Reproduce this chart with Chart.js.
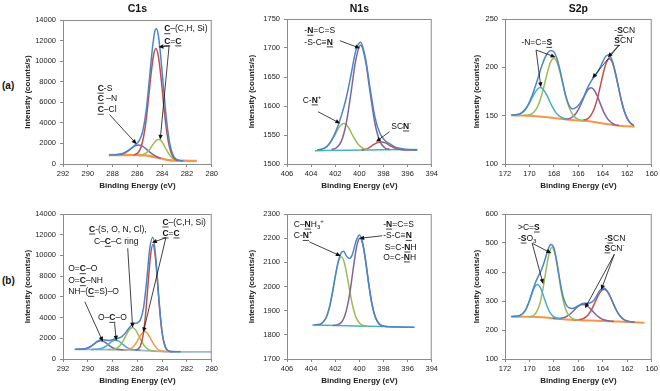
<!DOCTYPE html>
<html>
<head>
<meta charset="utf-8">
<script src="https://cdn.jsdelivr.net/npm/chart.js@4.4.0/dist/chart.umd.min.js"></script>
<style>
  body { margin: 0; background: #fff; width: 660px; height: 391px; position: relative; overflow: hidden; font-family: "Liberation Sans", Arial, sans-serif; }
  .panel { position: absolute; width: 220px; height: 195px; }
  .tag { position: absolute; font-weight: bold; font-size: 10px; color: #111; }
</style>
</head>
<body>
<div class="tag" style="left:2px;top:80px">(a)</div>
<div class="tag" style="left:2px;top:275px">(b)</div>
<div class="panel" style="left:0;top:0"><canvas id="c1sA"></canvas></div>
<div class="panel" style="left:220px;top:0"><canvas id="n1sA"></canvas></div>
<div class="panel" style="left:440px;top:0"><canvas id="s2pA"></canvas></div>
<div class="panel" style="left:0;top:195px"><canvas id="c1sB"></canvas></div>
<div class="panel" style="left:220px;top:195px"><canvas id="n1sB"></canvas></div>
<div class="panel" style="left:440px;top:195px"><canvas id="s2pB"></canvas></div>
<script>
'use strict';

// ---- data: [binding energy (eV), counts/s] ----
// C1s (a)
let c1sA_bg = [[288.3,880],[287.5,878],[286.5,868],[286,860],[285.4,840],[285,780],[284.6,680],[284.2,560],[283.8,450],[283.4,370],[283,330],[282.5,310],[281.2,300]];
let c1sA_red = [[286.3,890],[286.1,970],[285.9,1170],[285.7,1660],[285.5,2630],[285.3,4200],[285.1,6370],[284.9,8710],[284.7,10550],[284.5,11220],[284.3,10430],[284.1,8470],[283.9,6040],[283.7,3800],[283.5,2160],[283.3,1170],[283.1,650],[282.9,430],[282.7,320]];
let c1sA_green = [[285.85,870],[285.65,900],[285.45,980],[285.25,1110],[285.05,1360],[284.85,1700],[284.65,2050],[284.45,2320],[284.25,2380],[284.05,2210],[283.85,1820],[283.65,1370],[283.45,960],[283.25,655],[283.05,475],[282.85,370]];
let c1sA_purple = [[287.7,900],[287.4,944],[287.1,1050],[286.8,1240],[286.5,1510],[286.2,1756],[285.9,1855],[285.6,1740],[285.3,1475],[285,1150],[284.7,880],[284.4,684],[284.1,560]];
let c1sA_sum = [[288.3,880],[287.7,900],[287.4,945],[287.1,1050],[286.8,1245],[286.5,1520],[286.2,1830],[285.9,2190],[285.6,3040],[285.3,5115],[285,8610],[284.8,11100],[284.6,12850],[284.45,13150],[284.3,12450],[284.1,10260],[283.9,7530],[283.7,4875],[283.5,2840],[283.3,1536],[283.1,830],[282.9,506],[282.6,345],[282.3,310]];

// N1s (a)
let n1sA_bg = [[403.7,1523],[401,1523.5],[398,1524.5],[395.2,1525]];
let n1sA_purple = [[402.3,1525],[401.9,1528],[401.5,1539],[401.1,1569],[400.7,1622],[400.3,1679],[399.9,1705],[399.5,1679],[399.1,1622],[398.7,1569],[398.3,1539],[397.9,1528],[397.5,1525]];
let n1sA_green = [[403.5,1524],[403.3,1525],[402.9,1527],[402.5,1534],[402.1,1547],[401.7,1563],[401.3,1570],[400.9,1563],[400.5,1547],[400.1,1534],[399.7,1527],[399.3,1525]];
let n1sA_red = [[399.8,1524],[399.4,1526],[399,1531],[398.6,1536],[398.2,1538],[397.8,1536],[397.4,1531],[397,1527],[396.6,1525],[396,1524],[395.2,1524]];
let n1sA_sum = [[403.5,1524],[403.1,1526],[402.7,1530],[402.3,1541],[401.9,1559],[401.5,1583],[401.1,1613],[400.7,1653],[400.3,1695],[399.9,1710],[399.5,1683],[399.1,1629],[398.7,1580],[398.3,1553],[397.9,1541],[397.5,1535],[397.1,1530],[396.7,1527],[396,1525],[395.2,1524]];

// S2p (a)
let s2pA_bg = [[171.5,150.5],[171,150.3],[170,149.9],[169,149],[168,147.5],[167,146],[166,145],[165,144],[164,142],[163,140],[162,139],[161.4,138.6]];
let s2pA_cyan = [[171.35,150.6],[171.1,150.9],[170.85,151.6],[170.6,153.2],[170.35,156.2],[170.1,160.8],[169.85,166.7],[169.6,172.8],[169.35,177.4],[169.1,179.1],[168.85,176.9],[168.6,171.7],[168.35,164.9],[168.1,158.5],[167.85,153.4],[167.6,150],[167.35,148.1],[167.1,146.7],[166.85,146]];
let s2pA_green = [[170.5,150.3],[170.25,150.4],[170,151],[169.75,152.4],[169.5,155.7],[169.25,161.8],[169,171.3],[168.75,183.5],[168.5,196.3],[168.25,206.1],[168,209.5],[167.75,205.4],[167.5,194.9],[167.25,181.3],[167,168.3],[166.75,158.4],[166.5,151.8],[166.25,148],[166,146.1],[165.75,145.1],[165.5,144.6]];
let s2pA_purple = [[167.2,146.5],[166.95,146.6],[166.7,147.2],[166.45,149],[166.2,152.3],[165.95,157.6],[165.7,164.4],[165.45,171.6],[165.2,177],[164.95,178.9],[164.7,176.3],[164.45,170.2],[164.2,162.2],[163.95,154.5],[163.7,148.5],[163.45,144.4],[163.2,141.9],[162.95,140.5],[162.7,139.9]];
let s2pA_red = [[165.7,145.1],[165.45,145.7],[165.2,147.2],[164.95,150.8],[164.7,157.3],[164.45,167.6],[164.2,180.8],[163.95,194.6],[163.7,205.2],[163.45,208.9],[163.2,204.2],[162.95,192.6],[162.7,178],[162.45,163.9],[162.2,152.9],[161.95,145.8],[161.7,141.8],[161.45,139.8]];
let s2pA_sum = [[171.5,150.6],[171.25,150.7],[171,151.1],[170.75,152.1],[170.5,154.4],[170.25,158.2],[170,164.1],[169.75,171.9],[169.5,181.2],[169.25,191.1],[169,201],[168.75,209.5],[168.5,215],[168.25,217.5],[168,216],[167.75,209],[167.5,197.1],[167.25,182.5],[167,169.1],[166.75,160.5],[166.5,157],[166.25,158],[166,160.5],[165.75,165],[165.5,171.3],[165.25,178.7],[165,184.8],[164.75,189.3],[164.5,193.8],[164.25,199.2],[164,205.9],[163.75,211.6],[163.5,213.1],[163.25,207.6],[163,196],[162.75,181.3],[162.5,166.5],[162.25,154.8],[162,147],[161.75,142.3],[161.5,140]];

// C1s (b)
let c1sB_bg = [[291.1,930],[290,925],[289,918],[288,900],[287,880],[286,850],[285,780],[284,725],[283,700],[282,695],[281,690],[280,688]];
let c1sB_purple = [[290.95,931],[290.7,933],[290.45,947],[290.2,990],[289.95,1086],[289.7,1258],[289.45,1484],[289.2,1686],[288.95,1767],[288.7,1681],[288.45,1473],[288.2,1242],[287.95,1062],[287.7,960],[287.45,909],[287.2,889],[286.95,880]];
let c1sB_cyan = [[289.75,923],[289.5,928],[289.25,942],[289,988],[288.75,1090],[288.5,1273],[288.25,1514],[288,1730],[287.75,1815],[287.5,1720],[287.25,1494],[287,1243],[286.75,1048],[286.5,935],[286.25,880],[286,856],[285.75,833]];
let c1sB_green = [[288.4,912],[288.15,917],[287.9,950],[287.65,1058],[287.4,1302],[287.15,1740],[286.9,2314],[286.65,2828],[286.4,3034],[286.15,2814],[285.9,2280],[285.65,1683],[285.4,1222],[285.15,955],[284.9,827],[284.65,774],[284.4,748]];
let c1sB_orange = [[287.15,887],[286.9,897],[286.65,952],[286.4,1112],[286.15,1455],[285.9,1960],[285.65,2449],[285.4,2648],[285.15,2413],[284.9,1892],[284.65,1358],[284.4,993],[284.15,813],[283.9,742],[283.65,718]];
let c1sB_red = [[286.15,877],[285.95,959],[285.75,1286],[285.55,2210],[285.35,4152],[285.15,7042],[284.95,9863],[284.75,11065],[284.55,9840],[284.35,6997],[284.15,4080],[283.95,2115],[283.75,1171],[283.55,826],[283.35,726],[283.15,702]];
let c1sB_sum = [[291,931],[290.75,933],[290.5,944],[290.25,978],[290,1063],[289.75,1219],[289.5,1443],[289.25,1675],[289,1835],[288.75,1860],[288.5,1820],[288.25,1790],[288,1860],[287.75,1950],[287.5,2020],[287.25,2161],[287,2452],[286.75,2869],[286.5,3234],[286.25,3416],[286,3498],[285.75,3805],[285.5,4958],[285.25,7517],[285,10678],[284.75,11750],[284.5,9597],[284.25,5586],[284,2533],[283.75,1178],[283.5,789],[283.25,715],[283,700],[282.5,697]];

// N1s (b)
let n1sB_bg = [[403.9,1841],[401,1837.6],[398,1834],[395.4,1831]];
let n1sB_green = [[403.75,1841],[403.5,1842],[403.25,1844],[403,1853],[402.75,1872],[402.5,1910],[402.25,1970],[402,2040],[401.75,2100],[401.5,2123],[401.25,2099],[401,2039],[400.75,1968],[400.5,1908],[400.25,1869],[400,1849],[399.75,1840],[399.5,1837],[399.25,1835.5]];
let n1sB_purple = [[402.2,1839],[401.95,1840],[401.7,1844],[401.45,1854],[401.2,1880],[400.95,1929],[400.7,2004],[400.45,2095],[400.2,2171],[399.95,2201],[399.7,2171],[399.45,2094],[399.2,2003],[398.95,1926],[398.7,1877],[398.45,1851],[398.2,1839],[397.95,1836],[397.7,1833.7]];
let n1sB_sum = [[403.75,1841],[403.5,1842],[403.25,1844],[403,1853],[402.75,1872],[402.5,1910],[402.25,1970],[402,2041],[401.75,2104],[401.5,2140],[401.3,2146],[401.1,2128],[400.85,2116],[400.6,2130],[400.25,2191],[400,2213],[399.75,2185],[399.5,2113],[399.25,2020],[399,1939],[398.75,1884],[398.5,1855],[398.25,1841],[398,1836],[397.5,1833.5],[396.5,1832.3],[395.5,1831]];

// S2p (b)
let s2pB_bg = [[171.5,246],[170,245.4],[169,243.8],[168,240],[167,236],[166,234],[165,232.5],[164,231],[163,229.5],[162,228],[161,226],[160.6,225]];
let s2pB_cyan = [[171.35,246.1],[171.1,246.5],[170.85,248.4],[170.6,254.1],[170.35,266.9],[170.1,289.6],[169.85,319.3],[169.6,345.9],[169.35,356.5],[169.1,345],[168.85,317.4],[168.6,286.5],[168.35,262.6],[168.1,248.8],[167.85,242.1],[167.6,239.1],[167.35,237.4]];
let s2pB_green = [[170.15,245.7],[169.9,246.7],[169.65,250.8],[169.4,263.1],[169.15,290.9],[168.9,340.3],[168.65,404.6],[168.4,462.3],[168.15,485.4],[167.9,460.4],[167.65,400.8],[167.4,334.4],[167.15,287],[166.9,258],[166.65,245],[166.4,238],[166.15,235],[165.9,233.9]];
let s2pB_purple = [[168.1,240.5],[167.85,240],[167.6,240],[167.35,241],[167.1,243.8],[166.85,249.4],[166.6,257.8],[166.35,268.1],[166.1,278.3],[165.85,285.8],[165.6,288.3],[165.35,285],[165.1,276.7],[164.85,265.6],[164.6,254.5],[164.35,245.3],[164.1,238.5],[163.85,234.4],[163.6,232],[163.35,230.6],[163.1,229.7]];
let s2pB_red = [[166.4,235],[166.15,235],[165.9,235.8],[165.65,238.2],[165.4,244.1],[165.15,255],[164.9,271.9],[164.65,293.9],[164.4,316.9],[164.15,334.4],[163.9,340.8],[163.65,333.6],[163.4,315.4],[163.15,291.6],[162.9,268.9],[162.65,251.3],[162.4,239.7],[162.15,233],[161.9,229.7],[161.65,228],[161.4,227]];
let s2pB_sum = [[171.5,246.5],[171.25,247],[171,248],[170.75,251],[170.5,259],[170.25,275],[170,302],[169.75,334.7],[169.5,364.7],[169.25,387.6],[169,409.5],[168.75,439.9],[168.5,475.9],[168.25,495],[168,483],[167.75,432],[167.5,368],[167.25,316],[167,287],[166.75,276],[166.5,274],[166.25,278],[166,284],[165.75,290],[165.5,292],[165.25,292.5],[165,294],[164.75,302],[164.5,318],[164.25,336],[164,345],[163.75,340.7],[163.5,324.7],[163.25,301.8],[163,277.6],[162.75,257.6],[162.5,243.7],[162.25,235.2],[162,230.8],[161.75,228.5],[161.5,227.3]];

// ---- look ----
const FONT = '"Liberation Sans", Arial, sans-serif';
const BLUE = '#4a86c8', RED = '#c0504d', GREEN = '#9bbb59', PURPLE = '#8064a2', CYAN = '#4bacc6', ORANGE = '#f79646', PALE = '#9fb8d8';

function rich(ctx, s, x, y, size) {
  let re = /\[([^\]]+)\]|\^(.)|_(.)|([^\[\^_]+)/g;
  let m;
  ctx.textBaseline = 'middle';
  ctx.textAlign = 'left';
  ctx.fillStyle = '#111';
  ctx.strokeStyle = '#111';
  while ((m = re.exec(s))) {
    let txt, dy = 0, fs = size, bold = false;
    if (m[1]) { txt = m[1]; bold = true; }
    else if (m[2]) { txt = m[2]; fs = size * 0.7; dy = -size * 0.35; }
    else if (m[3]) { txt = m[3]; fs = size * 0.7; dy = size * 0.3; }
    else { txt = m[4]; }
    ctx.font = (bold ? 'bold ' : '') + fs + 'px ' + FONT;
    ctx.fillText(txt, x, y + dy);
    let w = ctx.measureText(txt).width;
    if (bold) {
      ctx.lineWidth = 0.8;
      ctx.beginPath();
      ctx.moveTo(x, y + size * 0.55);
      ctx.lineTo(x + w, y + size * 0.55);
      ctx.stroke();
    }
    x += w;
  }
}

function arrow(ctx, x1, y1, x2, y2) {
  let ang = Math.atan2(y2 - y1, x2 - x1), L = 5, W = 2.2;
  ctx.strokeStyle = '#111';
  ctx.fillStyle = '#111';
  ctx.lineWidth = 0.8;
  ctx.beginPath();
  ctx.moveTo(x1, y1);
  ctx.lineTo(x2 - Math.cos(ang) * L * 0.8, y2 - Math.sin(ang) * L * 0.8);
  ctx.stroke();
  ctx.beginPath();
  ctx.moveTo(x2, y2);
  ctx.lineTo(x2 - L * Math.cos(ang) + W * Math.sin(ang), y2 - L * Math.sin(ang) - W * Math.cos(ang));
  ctx.lineTo(x2 - L * Math.cos(ang) - W * Math.sin(ang), y2 - L * Math.sin(ang) + W * Math.cos(ang));
  ctx.closePath();
  ctx.fill();
}

// frame, title, labels and arrows (placed in data units)
function notes(spec) {
  return {
    id: 'notes',
    afterDraw(chart) {
      let ctx = chart.ctx, a = chart.chartArea, x = chart.scales.x, y = chart.scales.y;
      ctx.save();
      ctx.strokeStyle = '#8c8c8c';
      ctx.lineWidth = 1;
      ctx.strokeRect(a.left + 0.5, a.top + 0.5, a.right - a.left - 1, a.bottom - a.top);
      if (spec.title) {
        ctx.font = 'bold 10.5px ' + FONT;
        ctx.fillStyle = '#111';
        ctx.textAlign = 'center';
        ctx.textBaseline = 'middle';
        ctx.fillText(spec.title, (a.left + a.right) / 2, 9);
      }
      spec.texts.forEach(t => rich(ctx, t[2], x.getPixelForValue(t[0]), y.getPixelForValue(t[1]), 8.5));
      spec.arrows.forEach(r => arrow(ctx, x.getPixelForValue(r[0]), y.getPixelForValue(r[1]), x.getPixelForValue(r[2]), y.getPixelForValue(r[3])));
      ctx.restore();
    }
  };
}

function panel(id, o) {
  let sets = o.curves.map(c => ({
    data: c[0].map(p => ({ x: p[0], y: p[1] })),
    borderColor: c[1],
    borderWidth: c[2] || 1.5,
    pointRadius: 0,
    fill: false,
    cubicInterpolationMode: 'monotone'
  }));
  new Chart(document.getElementById(id), {
    type: 'line',
    data: { datasets: sets },
    options: {
      responsive: true,
      maintainAspectRatio: false,
      animation: false,
      devicePixelRatio: 1,
      layout: { padding: { left: 0, right: o.padR, top: o.padT, bottom: 0 } },
      plugins: { legend: { display: false }, tooltip: { enabled: false } },
      scales: {
        x: {
          type: 'linear', reverse: true, min: o.x[0], max: o.x[1],
          ticks: { stepSize: 2, color: '#222', font: { family: FONT, size: 7.5 }, maxRotation: 0, padding: 2, callback: v => String(v) },
          grid: { drawOnChartArea: false, tickLength: 3, color: '#888' },
          border: { color: '#888' },
          title: { display: true, text: 'Binding Energy (eV)', color: '#222', font: { family: FONT, size: 8, weight: 'bold' }, padding: { top: 0, bottom: 4 } },
          afterFit: s => { s.height = 31; }
        },
        y: {
          type: 'linear', min: o.y[0], max: o.y[1],
          ticks: { stepSize: o.y[2], color: '#222', font: { family: FONT, size: 7.5 }, padding: 4, callback: v => String(v) },
          grid: { drawOnChartArea: false, tickLength: 3, color: '#888' },
          border: { color: '#888' },
          title: { display: true, text: 'Intensity (counts/s)', color: '#222', font: { family: FONT, size: 8, weight: 'bold' }, padding: { top: o.yPad, bottom: 0 } },
          afterFit: s => { s.width = o.yW; }
        }
      }
    },
    plugins: [notes(o)]
  });
}

panel('c1sA', {
  title: 'C1s', x: [280, 292], y: [0, 14000, 2000], padR: 7, padT: 20, yW: 63, yPad: 23,
  curves: [[c1sA_sum, BLUE], [c1sA_red, RED], [c1sA_green, GREEN], [c1sA_purple, PURPLE], [c1sA_bg, ORANGE, 2.4]],
  texts: [[283.84, 13120, '[C]–(C,H, Si)'], [283.84, 11940, '[C]=[C]'], [289.2, 7340, '[C]-S'], [289.2, 6360, '[C] –N'], [289.2, 5290, '[C]–Cl']],
  arrows: [[283.44, 11480, 284.3, 11380], [283.44, 11480, 284.16, 2350], [288.24, 4800, 286.06, 1930]]
});

panel('n1sA', {
  title: 'N1s', x: [394, 406], y: [1500, 1750, 50], padR: 3, padT: 19, yW: 67, yPad: 27,
  curves: [[n1sA_sum, BLUE], [n1sA_purple, PURPLE], [n1sA_green, GREEN], [n1sA_red, RED], [n1sA_bg, CYAN]],
  texts: [[404.56, 1730, '-[N]=C=S'], [404.56, 1710, '-S-C≡[N]'], [404.7, 1610, 'C-[N]^+'], [397.36, 1565, 'SC[N]^-']],
  arrows: [[401.62, 1712.6, 399.94, 1699.5], [403.42, 1590, 401.58, 1570], [397.5, 1555.7, 398.62, 1538.4]]
});

panel('s2pA', {
  title: 'S2p', x: [160, 172], y: [100, 250, 50], padR: 5, padT: 19, yW: 65, yPad: 32,
  curves: [[s2pA_sum, BLUE], [s2pA_cyan, CYAN], [s2pA_green, GREEN], [s2pA_purple, PURPLE], [s2pA_red, RED], [s2pA_bg, ORANGE, 2]],
  texts: [[170.66, 225.5, '-N=C=[S]'], [163.06, 237.9, '-[S]CN'], [163.06, 227.6, '[S]CN^-']],
  arrows: [[169.46, 217.9, 167.86, 210.4], [169.46, 217.9, 169.06, 179.3], [162.66, 223.1, 163.6, 210.4], [162.66, 223.1, 164.86, 188.6]]
});

panel('c1sB', {
  x: [280, 292], y: [0, 14000, 2000], padR: 7, padT: 19, yW: 63, yPad: 23,
  curves: [[c1sB_sum, BLUE], [c1sB_red, RED], [c1sB_orange, ORANGE], [c1sB_green, GREEN], [c1sB_cyan, CYAN], [c1sB_purple, PURPLE], [c1sB_bg, PALE, 1.8]],
  texts: [[283.98, 13200, '[C]–(C,H, Si)'], [283.98, 12140, '[C]=[C]'], [289.9, 12520, '[C]-(S, O, N, Cl),'], [289.5, 11330, 'C–[C]–C ring'],
    [291.58, 8690, 'O=[C]–O'], [291.58, 7530, 'O=[C]–NH'], [291.58, 6500, 'NH–([C]=S)–O'], [289.18, 3990, 'O–[C]–O']],
  arrows: [[283.7, 11710, 284.83, 11230], [283.7, 11710, 285.52, 2580], [286.78, 10690, 286.38, 3020], [290.24, 5530, 288.78, 1670], [287.84, 3450, 287.7, 1770]]
});

panel('n1sB', {
  x: [394, 406], y: [1700, 2300, 100], padR: 3, padT: 19, yW: 67, yPad: 27,
  curves: [[n1sB_sum, BLUE], [n1sB_purple, PURPLE], [n1sB_green, GREEN], [n1sB_bg, CYAN]],
  texts: [[405.44, 2257, 'C–[N]H_3^+'], [405.44, 2210, 'C-[N]^+'], [398.02, 2257, '-[N]=C=S'], [398.02, 2210, '-S-C≡[N]'], [397.9, 2162, 'S=C-[N]H'], [398.02, 2121, 'O=C-[N]H']],
  arrows: [[404.16, 2185, 401.54, 2126], [398.1, 2210, 400.02, 2199]]
});

panel('s2pB', {
  x: [160, 172], y: [100, 600, 100], padR: 5, padT: 19, yW: 65, yPad: 32,
  curves: [[s2pB_sum, BLUE], [s2pB_cyan, CYAN], [s2pB_green, GREEN], [s2pB_purple, PURPLE], [s2pB_red, RED], [s2pB_bg, ORANGE, 2]],
  texts: [[170.94, 554, '>C=[S]'], [170.94, 516, '-[S]O_3'], [163.86, 516, '-[S]CN'], [163.86, 482, '[S]CN^-']],
  arrows: [[169.78, 499, 168.2, 464.5], [169.78, 499, 168.88, 358.6], [163.06, 461, 164.14, 337.9], [163.06, 461, 165.46, 274.8]]
});
</script>
</body>
</html>
